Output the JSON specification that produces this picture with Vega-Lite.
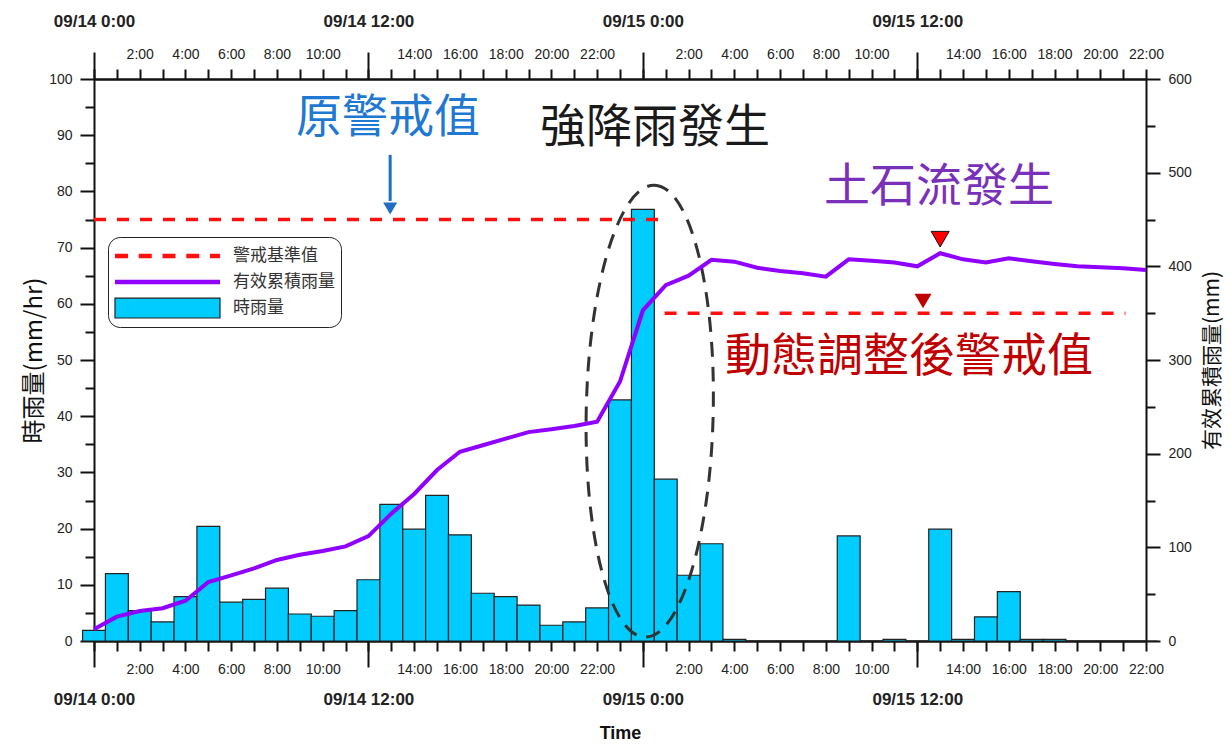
{
  "$schema": "https://vega.github.io/schema/vega-lite/v6.json",
  "width": 1052,
  "height": 562,
  "autosize": {"type": "none"},
  "padding": {"left": 94, "top": 79, "right": 84, "bottom": 104},
  "background": "white",
  "datasets": {
    "rain": [
      {"h": 0, "rain": 1.9, "cum": 12.5},
      {"h": 1, "rain": 12.0, "cum": 26},
      {"h": 2, "rain": 5.4, "cum": 32},
      {"h": 3, "rain": 3.4, "cum": 35},
      {"h": 4, "rain": 7.9, "cum": 43},
      {"h": 5, "rain": 20.4, "cum": 63},
      {"h": 6, "rain": 6.9, "cum": 70},
      {"h": 7, "rain": 7.4, "cum": 77.5},
      {"h": 8, "rain": 9.4, "cum": 86.5},
      {"h": 9, "rain": 4.8, "cum": 92},
      {"h": 10, "rain": 4.4, "cum": 96},
      {"h": 11, "rain": 5.4, "cum": 101},
      {"h": 12, "rain": 10.9, "cum": 112},
      {"h": 13, "rain": 24.3, "cum": 136},
      {"h": 14, "rain": 19.9, "cum": 157},
      {"h": 15, "rain": 25.9, "cum": 182.5},
      {"h": 16, "rain": 18.9, "cum": 202},
      {"h": 17, "rain": 8.5, "cum": 209},
      {"h": 18, "rain": 7.9, "cum": 216},
      {"h": 19, "rain": 6.4, "cum": 223},
      {"h": 20, "rain": 2.8, "cum": 226},
      {"h": 21, "rain": 3.4, "cum": 229.5},
      {"h": 22, "rain": 5.9, "cum": 234},
      {"h": 23, "rain": 42.9, "cum": 277},
      {"h": 24, "rain": 76.8, "cum": 353},
      {"h": 25, "rain": 28.8, "cum": 380},
      {"h": 26, "rain": 11.7, "cum": 390},
      {"h": 27, "rain": 17.3, "cum": 407},
      {"h": 28, "rain": 0.3, "cum": 405},
      {"h": 29, "rain": 0, "cum": 398.5},
      {"h": 30, "rain": 0, "cum": 395},
      {"h": 31, "rain": 0, "cum": 392.5},
      {"h": 32, "rain": 0, "cum": 389},
      {"h": 33, "rain": 18.7, "cum": 407.5},
      {"h": 34, "rain": 0, "cum": 406},
      {"h": 35, "rain": 0.3, "cum": 404},
      {"h": 36, "rain": 0, "cum": 400},
      {"h": 37, "rain": 19.9, "cum": 414},
      {"h": 38, "rain": 0.3, "cum": 407.5},
      {"h": 39, "rain": 4.3, "cum": 404},
      {"h": 40, "rain": 8.8, "cum": 408.5},
      {"h": 41, "rain": 0.3, "cum": 405.5},
      {"h": 42, "rain": 0.3, "cum": 402.5},
      {"h": 43, "rain": 0, "cum": 400},
      {"h": 44, "rain": 0, "cum": 399},
      {"h": 45, "rain": 0, "cum": 398},
      {"h": 46, "rain": 0, "cum": 396}
    ],
    "thresholds": [
      {"start": 0, "end": 25.1, "mm": 450},
      {"start": 24.95, "end": 45.1, "mm": 350}
    ]
  },
  "resolve": {"scale": {"y": "independent"}, "axis": {"x": "independent", "y": "independent"}},
  "layer": [
    {
      "resolve": {"axis": {"x": "independent", "y": "independent"}},
      "layer": [
        {
          "data": {"name": "rain"},
          "mark": {"type": "bar", "orient": "vertical", "width": 22.87, "strokeWidth": 1.2, "opacity": 1},
          "encoding": {
            "x": {
              "field": "h", "type": "quantitative",
              "scale": {"domain": [0, 46], "nice": false, "zero": false, "padding": 0},
              "axis": {
                "orient": "bottom",
                "values": [0,1,2,3,4,5,6,7,8,9,10,11,12,13,14,15,16,17,18,19,20,21,22,23,24,25,26,27,28,29,30,31,32,33,34,35,36,37,38,39,40,41,42,43,44,45,46],
                "tickSize": 10, "labelPadding": 11,
                "labelExpr": "datum.value % 2 === 0 && datum.value % 12 !== 0 ? (datum.value % 24) + ':00' : ''",
                "title": null
              }
            },
            "y": {
              "field": "rain", "type": "quantitative",
              "scale": {"domain": [0, 100], "nice": false, "padding": 0},
              "axis": {
                "orient": "left",
                "values": [0,10,20,30,40,50,60,70,80,90,100],
                "tickSize": 14, "labelPadding": 8,
                "title": "時雨量(mm/hr)", "titleFontSize": 24, "titlePadding": 2
              }
            },
            "color": {
              "datum": "時雨量",
              "scale": {"domain": ["警戒基準值", "有效累積雨量", "時雨量"], "range": ["#ff1010", "#9000ff", "#00ccff"]},
              "legend": {
                "orient": "none", "legendX": 14, "legendY": 158, "title": null, "direction": "vertical",
                "padding": 6, "fillColor": "white", "strokeColor": "#222", "cornerRadius": 12,
                "symbolSize": 11025, "symbolStrokeWidth": 1.2, "clipHeight": 26, "rowPadding": 0,
                "symbolOffset": 0, "labelOffset": 12,
                "labelFont": "Noto Sans CJK TC", "labelFontSize": 17, "labelColor": "#333", "labelLimit": 300
              }
            },
            "stroke": {
              "datum": "時雨量",
              "scale": {"domain": ["警戒基準值", "有效累積雨量", "時雨量"], "range": ["transparent", "transparent", "#222222"]},
              "legend": {
                "orient": "none", "legendX": 14, "legendY": 158, "title": null, "direction": "vertical",
                "padding": 6, "fillColor": "white", "strokeColor": "#222", "cornerRadius": 12,
                "symbolSize": 11025, "symbolStrokeWidth": 1.2, "clipHeight": 26, "rowPadding": 0,
                "symbolOffset": 0, "labelOffset": 12,
                "labelFont": "Noto Sans CJK TC", "labelFontSize": 17, "labelColor": "#333", "labelLimit": 300
              }
            }
          }
        },
        {
          "data": {"values": [{}]},
          "mark": {"type": "point", "size": 0, "filled": true, "fill": "transparent", "stroke": "transparent", "strokeWidth": 0},
          "encoding": {
            "x": {"datum": 0, "type": "quantitative", "axis": null},
            "y": {"datum": 0, "type": "quantitative", "axis": null},
            "shape": {
              "datum": "時雨量",
              "scale": {
                "domain": ["警戒基準值", "有效累積雨量", "時雨量"],
                "range": [
                  "M -1 -0.042 H -0.752 V 0.042 H -1 Z M -0.548 -0.042 H -0.3 V 0.042 H -0.548 Z M -0.095 -0.042 H 0.153 V 0.042 H -0.095 Z M 0.358 -0.042 H 0.605 V 0.042 H 0.358 Z M 0.81 -0.042 H 1 V 0.042 H 0.81 Z",
                  "M -1 -0.045 H 1 V 0.045 H -1 Z",
                  "M -1 -0.19 H 1 V 0.19 H -1 Z"
                ]
              },
              "legend": {
                "orient": "none", "legendX": 14, "legendY": 158, "title": null, "direction": "vertical",
                "padding": 6, "fillColor": "white", "strokeColor": "#222", "cornerRadius": 12,
                "symbolSize": 11025, "symbolStrokeWidth": 1.2, "clipHeight": 26, "rowPadding": 0,
                "symbolOffset": 0, "labelOffset": 12,
                "labelFont": "Noto Sans CJK TC", "labelFontSize": 17, "labelColor": "#333", "labelLimit": 300
              }
            }
          }
        },
        {
          "data": {"values": [{}]},
          "mark": {"type": "point", "shape": "M 0 -1 C 0.1552 -1 0.281 -0.5523 0.281 0 C 0.281 0.5523 0.1552 1 0 1 C -0.1552 1 -0.281 0.5523 -0.281 0 C -0.281 -0.5523 -0.1552 -1 0 -1 Z", "size": 204304, "filled": false, "stroke": "#333", "strokeWidth": 3, "strokeDash": [15, 10], "angle": 1.2, "opacity": 1},
          "encoding": {
            "x": {
              "datum": 24.3, "type": "quantitative",
              "axis": {
                "orient": "bottom", "values": [0, 12, 24, 36],
                "tickSize": 26, "labelPadding": 24,
                "labelFont": "Liberation Sans", "labelFontWeight": "bold", "labelFontSize": 17, "labelColor": "#222",
                "labelExpr": "datum.value === 0 ? '09/14 0:00' : datum.value === 12 ? '09/14 12:00' : datum.value === 24 ? '09/15 0:00' : '09/15 12:00'",
                "title": "Time", "titleFont": "Liberation Sans", "titleFontWeight": "bold", "titleFontSize": 18, "titlePadding": 17, "titleColor": "#111"
              }
            },
            "y": {
              "datum": 40.9, "type": "quantitative",
              "axis": {
                "orient": "left", "values": [5,15,25,35,45,55,65,75,85,95],
                "tickSize": 9, "labels": false, "domain": false, "title": null
              }
            }
          }
        },
        {
          "data": {"values": [{}]},
          "mark": {"type": "rule", "color": "#1f6fc5", "strokeWidth": 3},
          "encoding": {
            "x": {"datum": 12.95, "type": "quantitative", "axis": null},
            "y": {"datum": 86.5, "type": "quantitative", "axis": null},
            "y2": {"datum": 78.3}
          }
        },
        {
          "data": {"values": [{}]},
          "mark": {"type": "point", "shape": "triangle-down", "size": 196, "filled": true, "color": "#1f6fc5", "opacity": 1},
          "encoding": {
            "x": {"datum": 12.95, "type": "quantitative", "axis": null},
            "y": {"datum": 76.96, "type": "quantitative", "axis": null}
          }
        },
        {
          "data": {"values": [{}]},
          "mark": {"type": "text", "text": "原警戒值", "font": "Noto Sans CJK TC", "fontSize": 46, "color": "#1f78d1", "align": "center", "baseline": "middle"},
          "encoding": {
            "x": {
              "datum": 12.86, "type": "quantitative",
              "axis": {
                "orient": "top", "values": [0, 12, 24, 36],
                "tickSize": 27, "labelPadding": 22,
                "labelFont": "Liberation Sans", "labelFontWeight": "bold", "labelFontSize": 17, "labelColor": "#222",
                "labelExpr": "datum.value === 0 ? '09/14 0:00' : datum.value === 12 ? '09/14 12:00' : datum.value === 24 ? '09/15 0:00' : '09/15 12:00'",
                "title": null
              }
            },
            "y": {"datum": 93.1, "type": "quantitative", "axis": null}
          }
        },
        {
          "data": {"values": [{}]},
          "mark": {"type": "text", "text": "強降雨發生", "font": "Noto Sans CJK TC", "fontSize": 46, "color": "#1a1a1a", "align": "center", "baseline": "middle"},
          "encoding": {
            "x": {"datum": 24.53, "type": "quantitative", "axis": null},
            "y": {"datum": 91.3, "type": "quantitative", "axis": null}
          }
        },
        {
          "data": {"values": [{}]},
          "mark": {"type": "text", "text": "土石流發生", "font": "Noto Sans CJK TC", "fontSize": 46, "color": "#7a30b8", "align": "center", "baseline": "middle"},
          "encoding": {
            "x": {"datum": 36.95, "type": "quantitative", "axis": null},
            "y": {"datum": 80.8, "type": "quantitative", "axis": null}
          }
        },
        {
          "data": {"values": [{}]},
          "mark": {"type": "text", "text": "動態調整後警戒值", "font": "Noto Sans CJK TC", "fontSize": 46, "color": "#c00000", "align": "center", "baseline": "middle"},
          "encoding": {
            "x": {"datum": 35.64, "type": "quantitative", "axis": null},
            "y": {"datum": 50.5, "type": "quantitative", "axis": null}
          }
        }
      ]
    },
    {
      "resolve": {"axis": {"x": "independent", "y": "independent"}},
      "layer": [
        {
          "data": {"name": "rain"},
          "mark": {"type": "line", "strokeWidth": 4, "stroke": "#9000ff"},
          "encoding": {
            "x": {
              "field": "h", "type": "quantitative",
              "axis": {
                "orient": "top",
                "values": [0,1,2,3,4,5,6,7,8,9,10,11,12,13,14,15,16,17,18,19,20,21,22,23,24,25,26,27,28,29,30,31,32,33,34,35,36,37,38,39,40,41,42,43,44,45,46],
                "tickSize": 10, "labelPadding": 8,
                "labelExpr": "datum.value % 2 === 0 && datum.value % 12 !== 0 ? (datum.value % 24) + ':00' : ''",
                "title": null
              }
            },
            "y": {
              "field": "cum", "type": "quantitative",
              "scale": {"domain": [0, 600], "nice": false, "padding": 0},
              "axis": {
                "orient": "right",
                "values": [0,100,200,300,400,500,600],
                "tickSize": 14, "labelPadding": 8,
                "title": "有效累積雨量(mm)", "titleFontSize": 21, "titleAngle": 270, "titlePadding": 31
              }
            }
          }
        },
        {
          "data": {"name": "thresholds"},
          "mark": {"type": "rule", "strokeWidth": 3.5, "strokeDash": [12, 11], "stroke": "#ff1010"},
          "encoding": {
            "x": {"field": "start", "type": "quantitative", "axis": null},
            "x2": {"field": "end"},
            "y": {
              "field": "mm", "type": "quantitative",
              "axis": {
                "orient": "right", "values": [50,150,250,350,450,550],
                "tickSize": 9, "labels": false, "domain": false, "title": null
              }
            }
          }
        },
        {
          "data": {"values": [{}]},
          "mark": {"type": "point", "shape": "triangle-down", "size": 324, "filled": true, "fill": "#ff0000", "stroke": "#111", "strokeWidth": 1, "opacity": 1},
          "encoding": {
            "x": {"datum": 37, "type": "quantitative", "axis": null},
            "y": {"datum": 429, "type": "quantitative", "axis": null}
          }
        },
        {
          "data": {"values": [{}]},
          "mark": {"type": "point", "shape": "triangle-down", "size": 289, "filled": true, "fill": "#c00000", "strokeWidth": 0, "opacity": 1},
          "encoding": {
            "x": {"datum": 36.25, "type": "quantitative", "axis": null},
            "y": {"datum": 363, "type": "quantitative", "axis": null}
          }
        }
      ]
    }
  ],
  "config": {
    "view": {"stroke": null},
    "font": "Liberation Sans",
    "axis": {
      "grid": false, "domainColor": "#111", "domainWidth": 2, "tickColor": "#111", "tickWidth": 2,
      "labelFont": "Liberation Sans", "labelFontSize": 14, "labelColor": "#222",
      "labelFlush": false, "labelOverlap": false,
      "titleFont": "Noto Sans CJK TC", "titleFontWeight": "normal", "titleColor": "#111"
    }
  }
}
